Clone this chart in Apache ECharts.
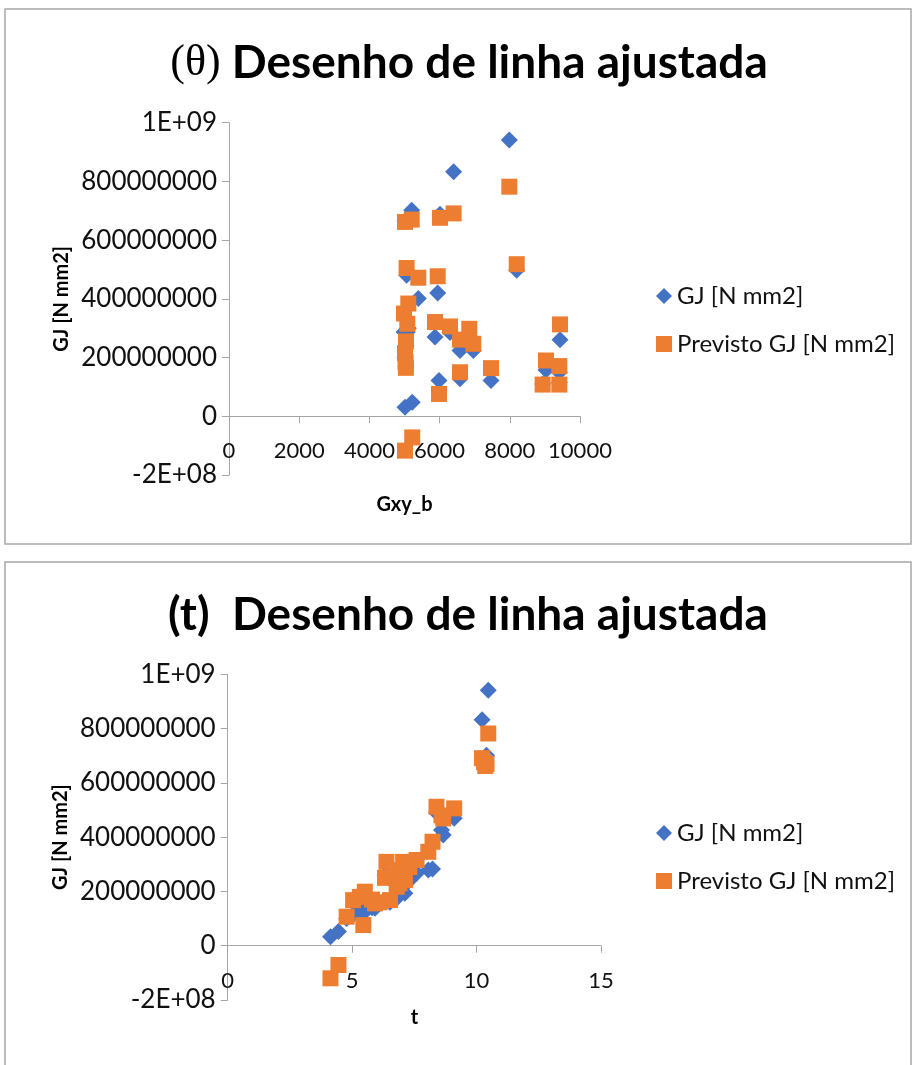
<!DOCTYPE html>
<html>
<head>
<meta charset="utf-8">
<script src="https://cdn.jsdelivr.net/npm/echarts@6/dist/echarts.min.js"></script>
<style>
html,body{margin:0;padding:0;background:#fff;}
#c{width:913px;height:1065px;}
</style>
</head>
<body>
<div id="c"></div>
<script>
// ---- Chart 1: Gxy_b ----
const gxyB      = [5014, 5220, 5014, 5060, 5108, 4986, 5080, 5043, 5014, 5030, 5040, 5205, 5393, 5946, 6011, 6400, 7986, 8197, 5983, 5869, 6296, 6846, 6581, 6960, 6581, 7464, 9430, 9031, 9411, 8935, 9411];
const gjTop     = [31, 48, 665, 480, 300, 287, 287, 240, 200, 190, 170, 702, 401, 420, 688, 833, 941, 497, 122, 270, 285, 260, 224, 224, 128, 122, 261, 158, 150, 110, 115];
const predTop   = [-117, -72, 662, 505, 384, 350, 315, 255, 215, 185, 165, 670, 472, 477, 676, 691, 782, 518, 76, 321, 306, 298, 261, 247, 150, 164, 313, 190, 171, 108, 108];
// ---- Chart 2: t ----
const tVals     = [4.13, 4.45, 4.78, 5.45, 5.31, 5.04, 5.51, 5.92, 6.52, 6.79, 7.12, 6.38, 6.72, 7.05, 7.59, 8.06, 8.23, 6.32, 8.39, 9.10, 8.66, 8.59, 10.47, 10.22, 10.40, 10.30, 10.35, 6.90, 7.30, 5.80, 6.10, 7.00];
const gjBot     = [33, 52, 100, 120, 125, 115, 150, 138, 160, 175, 193, 265, 230, 260, 267, 279, 283, 260, 490, 470, 408, 426, 941, 833, 702, 690, 680, 200, 240, 140, 155, 215];
const predBot   = [-120, -71, 107, 76, 180, 168, 199, 156, 168, 217, 242, 309, 279, 309, 316, 346, 383, 250, 512, 506, 469, 480, 782, 691, 670, 676, 662, 230, 290, 170, 160, 265];

const titles = ['{s|(θ)} Desenho de linha ajustada', '(t)  Desenho de linha ajustada'];
const seriesNames = ['GJ [N mm2]', 'Previsto GJ [N mm2]'];
const xNames = ['Gxy_b', 't'];
const yName = 'GJ [N mm2]';
const MILLION = 1e6;

const BLUE = '#4472C4', ORANGE = '#ED7D31';
const FONT = 'Lato';
const AXC = '#A6A6A6';

function yFmt(v){
  if (v === 1e9) return '1E+09';
  if (v === -2e8) return '-2E+08';
  return String(Math.round(v));
}
function xFmt(v){ return String(v); }
function pairs(xs, ys){ return xs.map((x,i)=>[x, ys[i]*MILLION]); }

function xAxisCfg(gi, min, max, interval, name, gap, labelMargin){
  return {
    gridIndex: gi, type:'value', min:min, max:max, interval:interval,
    name:name, nameLocation:'middle', nameGap:gap,
    nameTextStyle:{fontFamily:FONT, fontWeight:'bold', fontSize:20, color:'#000'},
    axisLine:{show:true, onZero:true, onZeroAxisIndex:gi, lineStyle:{color:AXC, width:1}},
    axisTick:{show:true, length:7, lineStyle:{color:AXC}},
    axisLabel:{fontFamily:FONT, fontSize:22, color:'#111', margin:labelMargin, formatter:xFmt},
    splitLine:{show:false}
  };
}
function yAxisCfg(gi){
  return {
    gridIndex: gi, type:'value', min:-2e8, max:1e9, interval:2e8,
    name:yName, nameLocation:'middle', nameGap:157, nameRotate:90,
    nameTextStyle:{fontFamily:FONT, fontWeight:'bold', fontSize:20, color:'#000'},
    axisLine:{show:true, onZero:false, lineStyle:{color:AXC, width:1}},
    axisTick:{show:true, length:7, lineStyle:{color:AXC}},
    axisLabel:{fontFamily:FONT, fontSize:26, color:'#111', margin:12, formatter:yFmt},
    splitLine:{show:false}
  };
}
function legendCfg(top){
  return {
    orient:'vertical', left:651, top:top, itemWidth:16, itemHeight:16, itemGap:24,
    textStyle:{fontFamily:FONT, fontSize:24, color:'#111'},
    data:[{name:seriesNames[0], icon:'diamond'},{name:seriesNames[1], icon:'rect'}],
    selectedMode:false
  };
}

const chart = echarts.init(document.getElementById('c'), null, {renderer:'canvas'});
chart.setOption({
  animation:false,
  backgroundColor:'#fff',
  graphic:[
    {type:'rect', shape:{x:5, y:9, width:906, height:535}, style:{fill:'none', stroke:'#A6A6A6', lineWidth:1.5}},
    {type:'rect', shape:{x:5, y:562, width:906, height:520}, style:{fill:'none', stroke:'#A6A6A6', lineWidth:1.5}}
  ],
  title:[
    {text:titles[0], left:464, top:35, textAlign:'center',
     textStyle:{fontFamily:FONT, fontWeight:'bold', fontSize:46, color:'#000',
       rich:{s:{fontFamily:'Liberation Serif', fontWeight:'normal', fontSize:44, color:'#000'}}}},
    {text:titles[1], left:463, top:587, textAlign:'center',
     textStyle:{fontFamily:FONT, fontWeight:'bold', fontSize:46, color:'#000'}}
  ],
  legend:[legendCfg(279), legendCfg(816)],
  grid:[
    {left:229, top:122.7, width:351, height:352.3, containLabel:false, outerBoundsMode:'none'},
    {left:227.7, top:674.3, width:373.3, height:325.7, containLabel:false, outerBoundsMode:'none'}
  ],
  xAxis:[
    xAxisCfg(0, 0, 10000, 2000, xNames[0], 20, -35.3),
    xAxisCfg(1, 0, 15, 5, xNames[1], 8, -30.3)
  ],
  yAxis:[yAxisCfg(0), yAxisCfg(1)],
  series:[
    {name:seriesNames[0], type:'scatter', xAxisIndex:0, yAxisIndex:0, symbol:'diamond', symbolSize:17,
     itemStyle:{color:BLUE, opacity:1}, data:pairs(gxyB, gjTop)},
    {name:seriesNames[1], type:'scatter', xAxisIndex:0, yAxisIndex:0, symbol:'rect', symbolSize:16,
     itemStyle:{color:ORANGE, opacity:1}, data:pairs(gxyB, predTop)},
    {name:seriesNames[0], type:'scatter', xAxisIndex:1, yAxisIndex:1, symbol:'diamond', symbolSize:17,
     itemStyle:{color:BLUE, opacity:1}, data:pairs(tVals, gjBot)},
    {name:seriesNames[1], type:'scatter', xAxisIndex:1, yAxisIndex:1, symbol:'rect', symbolSize:16,
     itemStyle:{color:ORANGE, opacity:1}, data:pairs(tVals, predBot)}
  ]
});
</script>
</body>
</html>
